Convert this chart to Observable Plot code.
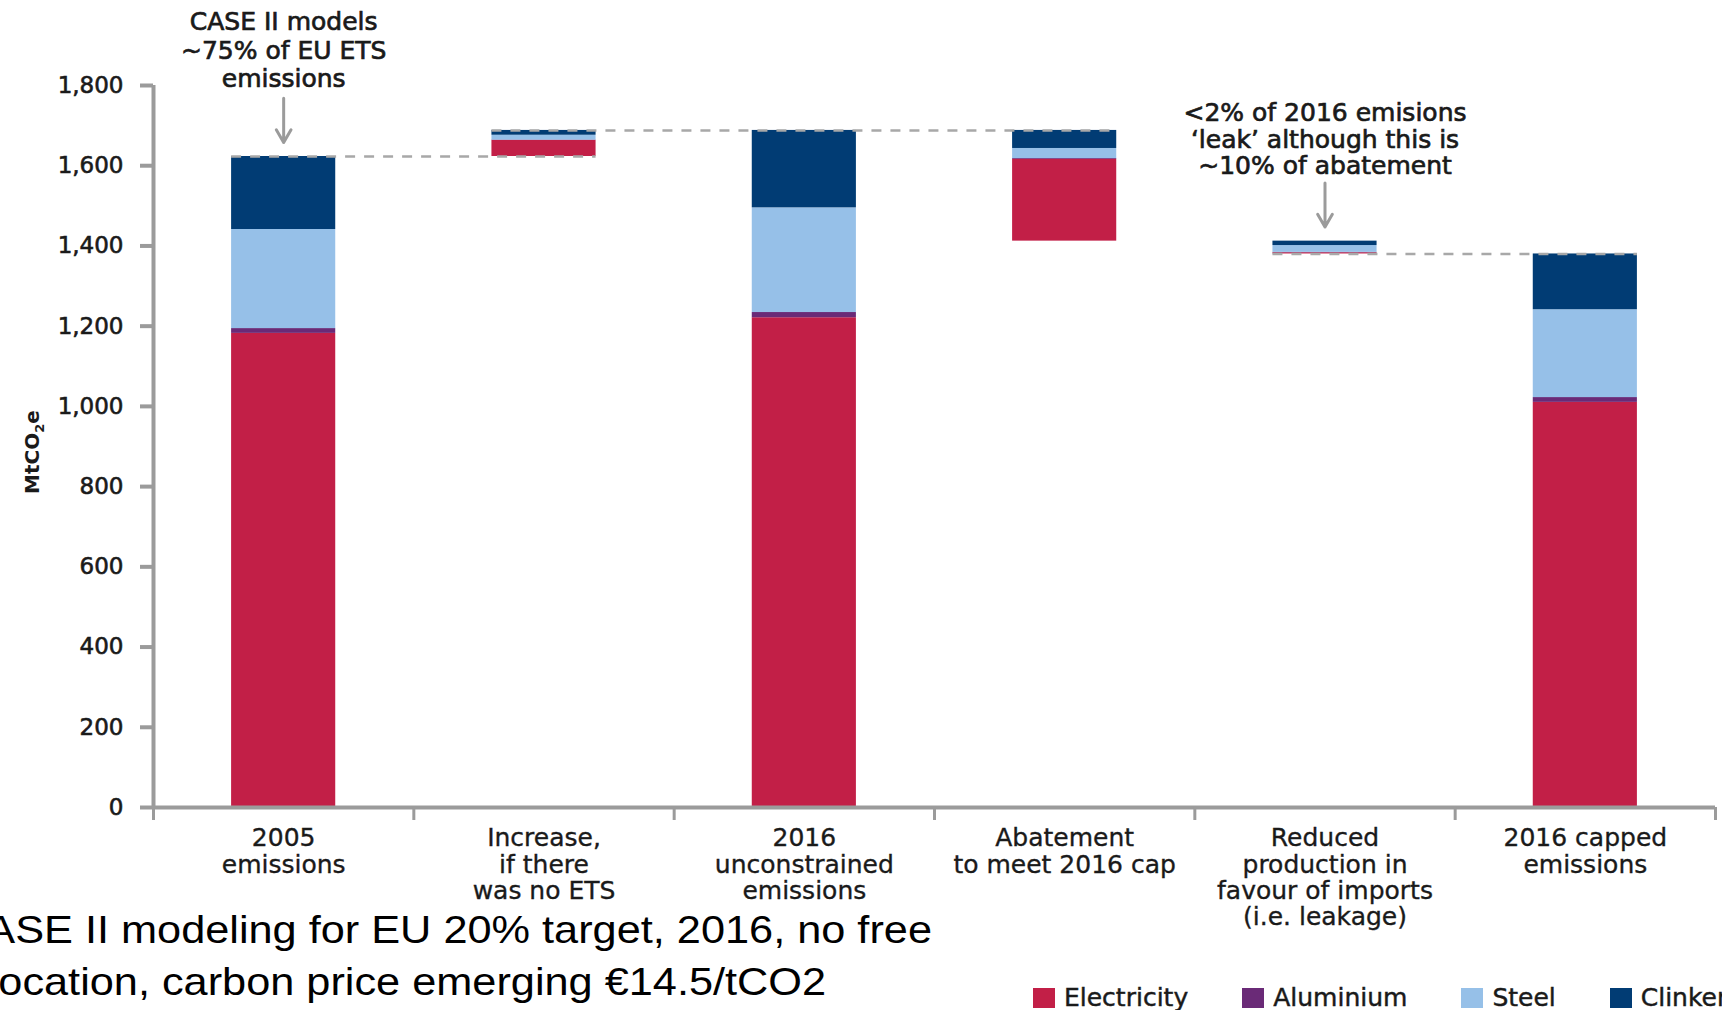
<!DOCTYPE html>
<html><head><meta charset="utf-8">
<script src="https://cdn.jsdelivr.net/npm/d3@7"></script>
<script src="https://cdn.jsdelivr.net/npm/@observablehq/plot@0.6"></script>
<style>
body{margin:0;background:#fff;}
#wrap{position:relative;width:1722px;height:1010px;overflow:hidden;font-family:"DejaVu Sans",sans-serif;color:#1a1a1a;}
#chart svg{display:block;}
#chart g[aria-label="y-axis tick label"] text{stroke:#1a1a1a;stroke-width:0.6px;}
#chart g[aria-label="x-axis tick label"] text{stroke:#1a1a1a;stroke-width:0.35px;}
#chart g[aria-label="text"] text{stroke:#1a1a1a;stroke-width:0.7px;}
#ylabel{position:absolute;left:33px;top:452px;transform:translate(-50%,-50%) rotate(-90deg);font-family:"DejaVu Sans",sans-serif;font-size:20px;font-weight:bold;white-space:nowrap;color:#1a1a1a;}
#ylabel sub{font-size:13px;}
#caption{position:absolute;left:-45px;top:904px;font-family:"Liberation Sans",Arial,sans-serif;font-size:39px;line-height:52px;color:#000;white-space:nowrap;transform:scaleX(1.11);transform-origin:0 0;}
#legend{position:absolute;left:1033px;top:983px;display:flex;align-items:center;white-space:nowrap;font-size:25px;line-height:30px;-webkit-text-stroke:0.45px #1a1a1a;}
#legend .item{display:flex;align-items:center;margin-right:54px;}
#legend .sw{width:22px;height:20px;margin-right:9px;}
</style></head><body>
<div id="wrap"><div id="chart"></div>
<div id="ylabel">MtCO<sub>2</sub>e</div>
<div id="caption">CASE II modeling for EU 20% target, 2016, no free<br>allocation, carbon price emerging €14.5/tCO2</div>
<div id="legend"></div>
</div>
<script>
const categories = ["2005\nemissions","Increase,\nif there\nwas no ETS","2016\nunconstrained\nemissions","Abatement\nto meet 2016 cap","Reduced\nproduction in\nfavour of imports\n(i.e. leakage)","2016 capped\nemissions"];
const stepTypes = ["total","up","total","down","down","total"];
const series = ["Electricity","Aluminium","Steel","Clinker"];
const electricity = [1182, 40, 1221, 204, 3, 1010];
const aluminium = [12, 1, 13, 2, 1, 12];
const steel = [247, 12, 261, 25, 17, 219];
const clinker = [182, 12, 193, 45, 11, 139];
const colors = ["#c21f47","#6a2a77","#96c0e8","#013c74"];
const yTicks = [0,200,400,600,800,1000,1200,1400,1600,1800];
const connectors = [{from:0,to:1,at:0},{from:1,to:3,at:2},{from:4,to:5,at:5}];
const annotations = [
  {i:0, text:"CASE II models\n~75% of EU ETS\nemissions"},
  {i:4, text:"<2% of 2016 emisions\n‘leak’ although this is\n~10% of abatement"}
];

const values = [electricity, aluminium, steel, clinker];
let running = 0; const rows = []; const tops = [];
categories.forEach((c,i)=>{
  const sum = d3.sum(values, v=>v[i]);
  let base;
  if (stepTypes[i]==="total"){ base=0; running=sum; }
  else if (stepTypes[i]==="up"){ base=running; running+=sum; }
  else { running-=sum; base=running; }
  let y = base;
  series.forEach((s,k)=>{ rows.push({i, series:s, y1:y, y2:y+values[k][i]}); y+=values[k][i]; });
  tops.push(y);
});
const boundaries = d3.range(7).map(k=>k-0.5);
const halfW = 0.2;
const gray = "#9b9b9b";
const font = "'DejaVu Sans', sans-serif";

const chart = Plot.plot({
  width:1722, height:1010, marginLeft:153, marginRight:7, marginTop:85, marginBottom:203,
  x:{domain:[-0.5,5.5], axis:null},
  y:{domain:[0,1800], axis:null},
  color:{domain:series, range:colors},
  style:{fontFamily:font, color:"#1a1a1a", background:"#fff", overflow:"visible"},
  marks:[
    Plot.rectY(rows,{x1:d=>d.i-halfW, x2:d=>d.i+halfW, y1:"y1", y2:"y2", fill:"series"}),
    Plot.ruleY(connectors,{x1:d=>d.from-halfW, x2:d=>d.to+halfW, y:d=>tops[d.at], stroke:"#a8a8a8", strokeWidth:2.5, strokeDasharray:"10,9"}),
    Plot.ruleX([-0.5],{y1:0, y2:1800, stroke:gray, strokeWidth:4}),
    Plot.ruleY([0],{stroke:gray, strokeWidth:4}),
    Plot.axisY({ticks:yTicks, tickFormat:d3.format(","), tickSize:13, tickPadding:17, stroke:gray, strokeWidth:4, fill:"#1a1a1a", fontSize:23, label:null}),
    Plot.axisX({ticks:boundaries, tickFormat:()=>"", tickSize:13, stroke:gray, strokeWidth:3, label:null}),
    Plot.axisX({ticks:d3.range(6), tickFormat:i=>categories[i], tickSize:0, tickPadding:20, fill:"#1a1a1a", fontSize:25, lineHeight:1.055, label:null}),
    Plot.text(annotations.filter(d=>d.i===0),{x:"i", y:d=>tops[d.i], text:"text", dy:-107, lineAnchor:"middle", fontSize:25, lineHeight:1.13, fill:"#1a1a1a"}),
    Plot.text(annotations.filter(d=>d.i!==0),{x:"i", y:d=>tops[d.i], text:"text", dy:-102, lineAnchor:"middle", fontSize:25, lineHeight:1.05, fill:"#1a1a1a"}),
    Plot.arrow(annotations,{x:"i", y1:d=>tops[d.i]+145, y2:d=>tops[d.i]+35, stroke:gray, strokeWidth:3, headLength:14})
  ]
});
document.getElementById("chart").appendChild(chart);

const legend = document.getElementById("legend");
series.forEach((s,k)=>{
  const it = document.createElement("div"); it.className="item";
  const sw = document.createElement("div"); sw.className="sw"; sw.style.background=colors[k];
  const tx = document.createElement("span"); tx.textContent=s;
  it.appendChild(sw); it.appendChild(tx); legend.appendChild(it);
});
</script>
</body></html>
